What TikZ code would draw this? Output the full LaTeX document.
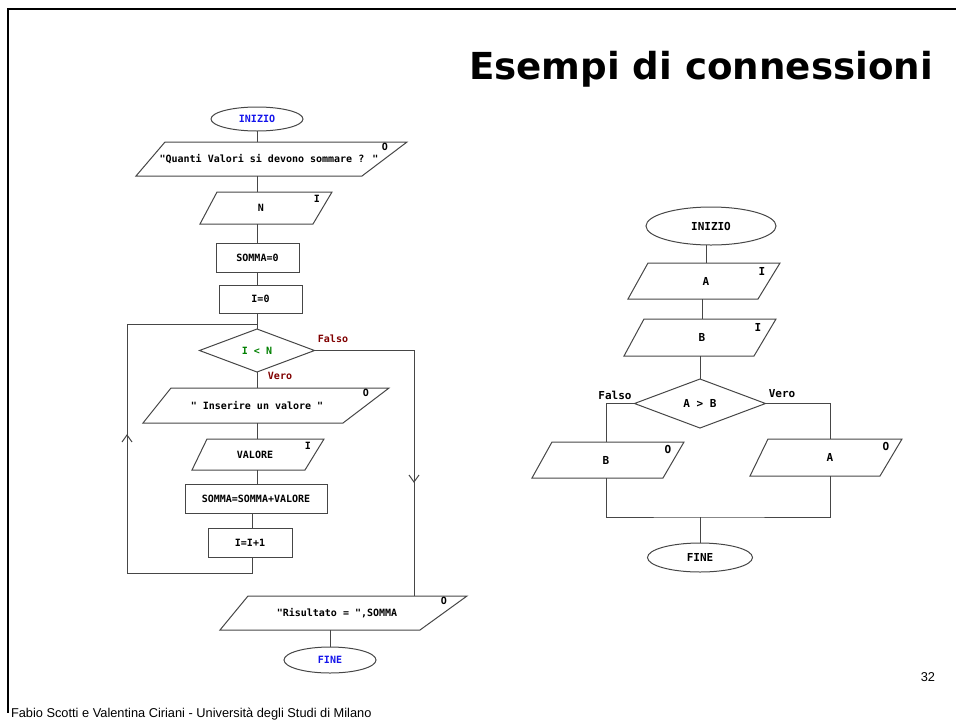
\documentclass[tikz,border=0pt]{standalone}
\usepackage{fontspec}
\setmainfont{Liberation Sans}
\newfontfamily\titlefont{DejaVu Sans}
\newfontfamily\chartfont{DejaVu Sans Mono}
\usetikzlibrary{shapes.geometric}
\definecolor{startblue}{RGB}{20,20,235}
\definecolor{branchred}{RGB}{128,0,0}
\definecolor{testgreen}{RGB}{0,128,0}
\definecolor{inkgray}{RGB}{70,70,70}

\begin{document}
\begin{tikzpicture}[x=1pt,y=-1pt,
  every node/.style={inner sep=0pt, outer sep=0pt},
  chart/.style={font=\chartfont\bfseries\fontsize{10}{12}\selectfont},
  bigchart/.style={font=\chartfont\bfseries\fontsize{11}{13}\selectfont},
  outline/.style={draw=inkgray, line width=1pt},
  wire/.style={draw=inkgray, line width=1pt},
  terminal/.style={outline, ellipse},
  procbox/.style={outline, rectangle},
  testbox/.style={outline, diamond, aspect=2.7},
  iotext/.style={rectangle},
  branch/.style={text=branchred}]

\useasboundingbox (0,0) rectangle (956,721);

% slide frame
\draw[line width=2pt] (7,9) -- (956,9);
\draw[line width=2pt] (8,9) -- (8,713);

% title and footer
\node[anchor=base west, font=\titlefont\bfseries\fontsize{37.2}{40}\selectfont] (title) at (469,79.3) {Esempi di connessioni};
\node[anchor=base west, font=\fontsize{12.8}{15}\selectfont] (footer) at (11,717) {Fabio Scotti e Valentina Ciriani - Università degli Studi di Milano};
\node[anchor=base east, font=\fontsize{12.8}{15}\selectfont] (pagenum) at (935,681) {32};

% ---------------- left flowchart: sum of N values ----------------
\begin{scope}[chart]
\node[terminal, text=startblue, minimum width=92pt, minimum height=24pt] (s1) at (257,119) {INIZIO};

\draw[outline] (165,142) -- (407,142) -- (362,176) -- (136,176) -- cycle;
\node[iotext, minimum height=34pt] (q) at (269,159) {"Quanti Valori si devono sommare ? "};
\node (qio) at (385,147) {O};

\draw[outline] (217,192) -- (332,192) -- (313,224) -- (200,224) -- cycle;
\node[iotext, minimum height=32pt] (n) at (261,208) {N};
\node (nio) at (317,199) {I};

\node[procbox, minimum width=83pt, minimum height=29pt] (s0) at (257.5,257.5) {SOMMA=0};
\node[procbox, minimum width=83pt, minimum height=28pt] (i0) at (260.5,299) {I=0};

\node[testbox, minimum width=115pt, minimum height=43pt, text=testgreen] (d1) at (257,350.5) {I < N};
\node[branch] (f1) at (333,339) {Falso};
\node[branch] (v1) at (280,376) {Vero};

\draw[outline] (171,388) -- (389,388) -- (343,423) -- (143,423) -- cycle;
\node[iotext, minimum height=35pt] (p3) at (257,405.5) {" Inserire un valore "};
\node (p3io) at (366,393) {O};

\draw[outline] (207,439) -- (324,439) -- (305,470) -- (192,470) -- cycle;
\node[iotext, minimum height=31pt] (p4) at (255,454.5) {VALORE};
\node (p4io) at (308,446) {I};

\node[procbox, minimum width=142pt, minimum height=29pt] (add) at (256,498.5) {SOMMA=SOMMA+VALORE};
\node[procbox, minimum width=84pt, minimum height=29pt] (inc) at (250,542.5) {I=I+1};

\draw[outline] (248,596) -- (467,596) -- (420,630) -- (220,630) -- cycle;
\node[iotext, minimum height=34pt] (p5) at (337,613) {"Risultato = ",SOMMA};
\node (p5io) at (444,601) {O};

\node[terminal, text=startblue, minimum width=92pt, minimum height=26pt] (e1) at (330,660) {FINE};
\end{scope}

% connectors of the left flowchart
\coordinate (merge) at (257,324);
\coordinate (loopcorner) at (127,573);
\coordinate (falsecol) at (414,350);
\coordinate (uptip) at (127,435);
\coordinate (downtip) at (414,482);

\draw[wire] (s1.south) -- (s1.south |- q.north);
\draw[wire] (q.south -| s1) -- (n.north -| s1);
\draw[wire] (n.south -| s0) -- (s0.north);
\draw[wire] (s0.south) -- (s0.south |- i0.north);
\draw[wire] (i0.south -| d1) -- (d1.north);
\draw[wire] (d1.south) -- (d1.south |- p3.north);
\draw[wire] (p3.south -| d1) -- (p4.north -| d1);
\draw[wire] (p4.south -| d1) -- (add.north -| d1);
\draw[wire] ([xshift=2pt]inc.north |- add.south) -- ([xshift=2pt]inc.north);
\draw[wire] ([xshift=2pt]inc.south) |- (loopcorner) |- (merge);
\draw[wire] (d1.east) -| (p5.north -| falsecol);
\draw[wire] (p5.south -| e1) -- (e1.north);
% direction marks on the long return lines
\draw[wire] ([shift={(-5,7)}]uptip) -- (uptip) -- ([shift={(5,7)}]uptip);
\draw[wire] ([shift={(-5,-7)}]downtip) -- (downtip) -- ([shift={(5,-7)}]downtip);

% ---------------- right flowchart: maximum of A and B ----------------
\begin{scope}[bigchart]
\node[terminal, minimum width=130pt, minimum height=38pt] (s2) at (711,226) {INIZIO};

\draw[outline] (648,263) -- (780,263) -- (758,299) -- (628,299) -- cycle;
\node[iotext, minimum height=36pt] (pa) at (706,281) {A};
\node (paio) at (762,271) {I};

\draw[outline] (644,319) -- (776,319) -- (754,356) -- (624,356) -- cycle;
\node[iotext, minimum height=37pt] (pb) at (702,337.5) {B};
\node (pbio) at (758,327) {I};

\node[testbox, minimum width=131pt, minimum height=49pt] (d2) at (700,403.5) {A > B};
\node (f2) at (615,395) {Falso};
\node (v2) at (782,394) {Vero};

\draw[outline] (552,442) -- (684,442) -- (663,478) -- (532,478) -- cycle;
\node[iotext, minimum height=36pt] (pbo) at (606,460) {B};
\node (pboio) at (668,449) {O};

\draw[outline] (768,439) -- (902,439) -- (880,476) -- (750,476) -- cycle;
\node[iotext, minimum height=37pt] (pao) at (830,457.5) {A};
\node (paoio) at (886,446) {O};

\node[terminal, minimum width=105pt, minimum height=29pt] (e2) at (700,557.5) {FINE};
\end{scope}

% connectors of the right flowchart
\coordinate (join) at (700,517);
\draw[wire] (s2.south -| pa) -- (pa.north);
\draw[wire] (pa.south -| pb) -- (pb.north);
\draw[wire] (pb.south -| d2) -- (d2.north);
\draw[wire] (d2.west) -| (pbo.north);
\draw[wire] (d2.east) -| (pao.north);
\draw[wire] (pbo.south) |- (join) -| (pao.south);
\draw[wire] (join) -- (e2.north);
\end{tikzpicture}
\end{document}
